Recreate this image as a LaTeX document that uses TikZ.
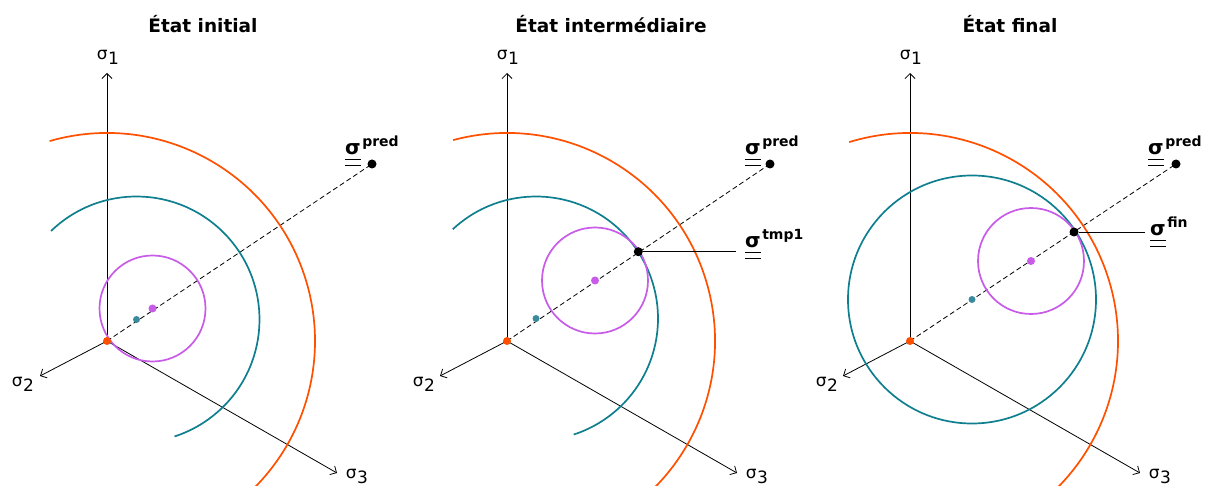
\documentclass[tikz,border=0pt]{standalone}
\usepackage{fontspec}
\setmainfont{DejaVu Sans}
\usetikzlibrary{arrows.meta}
\definecolor{cOr}{HTML}{FF5000}
\definecolor{cTe}{HTML}{0F7F8F}
\definecolor{cPu}{HTML}{C85BE8}
\definecolor{cTeDot}{HTML}{3A8A9E}
\newcommand{\dsig}{\leavevmode\vtop{\hbox{\fontsize{20}{20}\selectfont\bfseries σ}\kern3.5pt\hrule height 0.8pt\kern5pt\hrule height 0.8pt}}
\newcommand{\siglab}[1]{\dsig\kern1.5pt\raisebox{8pt}{\fontsize{14}{14}\selectfont\bfseries #1}}
\newcommand{\axlab}[1]{σ\kern0.5pt\raisebox{-5pt}{#1}}
\begin{document}
\begin{tikzpicture}[x=1pt,y=-1pt,
  axis/.style={line width=0.8pt,-{Straight Barb[length=5pt,width=10pt]}},
  hydro/.style={line width=0.8pt,dash pattern=on 5pt off 3pt},
  tecirc/.style={cTe,line width=1.7pt},
  orcirc/.style={cOr,line width=1.7pt},
  pucirc/.style={cPu,line width=1.7pt},
  dot/.style={circle,inner sep=0pt,minimum size=#1},
  dot/.default=8pt,
  axlabel/.style={font=\fontsize{17}{17}\selectfont,inner sep=0pt},
  title/.style={anchor=base,font=\fontsize{18.5}{20}\selectfont\bfseries,inner sep=0pt},
  lab/.style={anchor=base west,inner sep=0pt},
  conn/.style={line width=0.8pt}]
\useasboundingbox (0,0) rectangle (1205,486);
\clip (0,0) rectangle (1205,486);

% ---------------- Panel 1
\node[title] (t1) at (203,33) {État initial};
\coordinate (O1) at (107,341);
\coordinate (A1) at (107,73);
\coordinate (B1) at (40,376);
\coordinate (C1) at (337,473);
\coordinate (T1) at (136.5,319.5);
\coordinate (P1) at (152.5,308.5);
\coordinate (R1) at (372,164);
\draw[axis] (O1) -- (A1);
\draw[axis] (O1) -- (B1);
\draw[axis] (O1) -- (C1);
\draw[hydro] (O1) -- (R1);
\draw[orcirc] (O1) ++(106:208pt) arc[start angle=106,end angle=-75,radius=208pt];
\draw[tecirc] (T1) ++(134:123pt) arc[start angle=134,end angle=-72,radius=123pt];
\draw[pucirc] (P1) circle[radius=53pt];
\node[dot,fill=cOr] (o1) at (O1) {};
\node[dot=7pt,fill=cTeDot] (te1) at (T1) {};
\node[dot,fill=cPu] (pu1) at (P1) {};
\node[dot=9pt,fill=black] (r1) at (R1) {};
\node[axlabel] (la1) at (108,57) {\axlab{1}};
\node[axlabel] (lb1) at (23,384) {\axlab{2}};
\node[axlabel] (lc1) at (357,476) {\axlab{3}};
\node[lab] (lp1) at (345,155) {\siglab{pred}};

% ---------------- Panel 2
\node[title] (t2) at (611,33) {État intermédiaire};
\coordinate (O2) at (507,341);
\coordinate (A2) at (507,73);
\coordinate (B2) at (440,376);
\coordinate (C2) at (737,473);
\coordinate (T2) at (536,318.5);
\coordinate (P2) at (595,280.5);
\coordinate (R2) at (770,164);
\coordinate (K2) at (638.3,251.7);
\coordinate (E2) at (736,251.7);
\draw[axis] (O2) -- (A2);
\draw[axis] (O2) -- (B2);
\draw[axis] (O2) -- (C2);
\draw[hydro] (O2) -- (R2);
\draw[orcirc] (O2) ++(105:208pt) arc[start angle=105,end angle=-75,radius=208pt];
\draw[tecirc] (T2) ++(133:122pt) arc[start angle=133,end angle=-72,radius=122pt];
\draw[pucirc] (P2) circle[radius=53pt];
\node[dot,fill=cOr] (o2) at (O2) {};
\node[dot=7pt,fill=cTeDot] (te2) at (T2) {};
\node[dot,fill=cPu] (pu2) at (P2) {};
\node[dot=9pt,fill=black] (r2) at (R2) {};
\node[dot=9pt,fill=black] (k2) at (K2) {};
\coordinate (e2) at (E2);
\draw[conn] (k2) -- (e2);
\node[axlabel] (la2) at (508,57) {\axlab{1}};
\node[axlabel] (lb2) at (424,384) {\axlab{2}};
\node[axlabel] (lc2) at (757,476) {\axlab{3}};
\node[lab] (lp2) at (745,155) {\siglab{pred}};
\node[lab] (lk2) at (745,248) {\siglab{tmp1}};

% ---------------- Panel 3
\node[title] (t3) at (1010,33) {État final};
\coordinate (O3) at (910,341);
\coordinate (A3) at (910,73);
\coordinate (B3) at (843,376);
\coordinate (C3) at (1140,473);
\coordinate (T3) at (972,299.5);
\coordinate (P3) at (1031,261);
\coordinate (R3) at (1176,164);
\coordinate (K3) at (1074,232);
\coordinate (E3) at (1145,232);
\draw[axis] (O3) -- (A3);
\draw[axis] (O3) -- (B3);
\draw[axis] (O3) -- (C3);
\draw[hydro] (O3) -- (R3);
\draw[orcirc] (O3) ++(107:208pt) arc[start angle=107,end angle=-75,radius=208pt];
\draw[tecirc] (T3) circle[radius=124pt];
\draw[pucirc] (P3) circle[radius=53pt];
\node[dot,fill=cOr] (o3) at (O3) {};
\node[dot=7pt,fill=cTeDot] (te3) at (T3) {};
\node[dot,fill=cPu] (pu3) at (P3) {};
\node[dot=9pt,fill=black] (r3) at (R3) {};
\node[dot=9pt,fill=black] (k3) at (K3) {};
\coordinate (e3) at (E3);
\draw[conn] (k3) -- (e3);
\node[axlabel] (la3) at (911,57) {\axlab{1}};
\node[axlabel] (lb3) at (827,384) {\axlab{2}};
\node[axlabel] (lc3) at (1160,476) {\axlab{3}};
\node[lab] (lp3) at (1148,155) {\siglab{pred}};
\node[lab] (lk3) at (1150,236) {\siglab{fin}};
\end{tikzpicture}
\end{document}
